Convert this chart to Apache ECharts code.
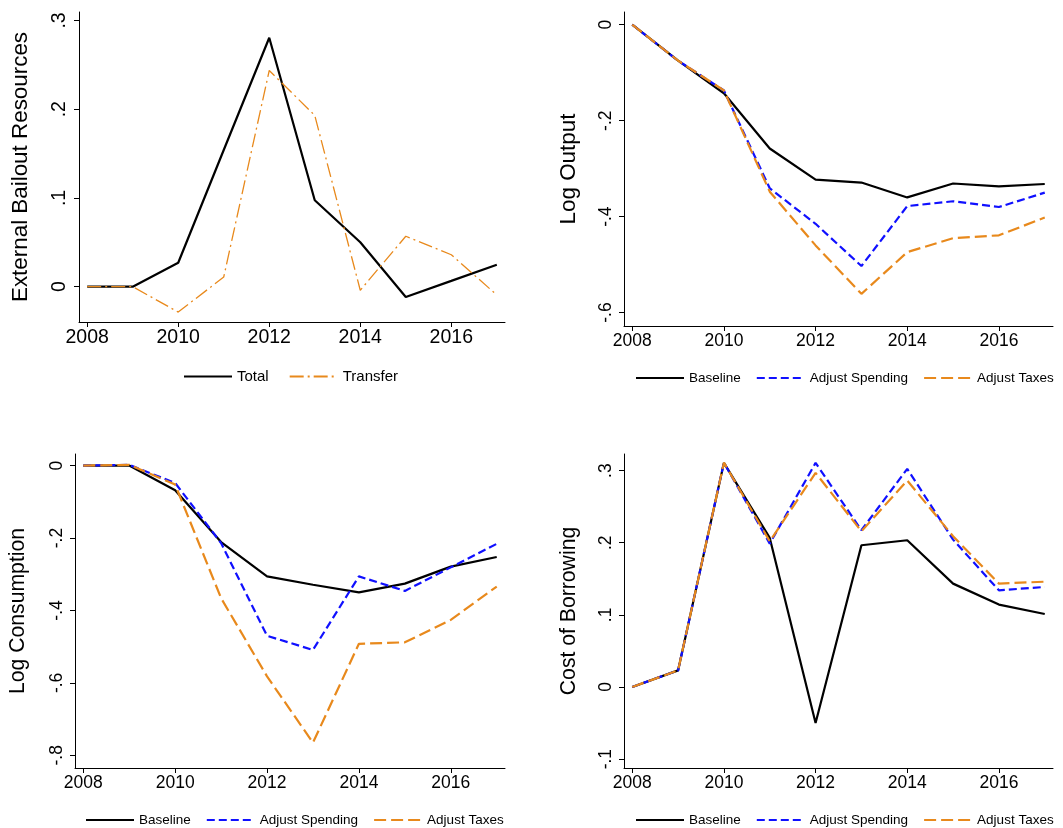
<!DOCTYPE html>
<html>
<head>
<meta charset="utf-8">
<script src="https://cdn.jsdelivr.net/npm/echarts@6/dist/echarts.min.js"></script>
<style>
html,body{margin:0;padding:0;background:#fff;}
#c{width:1063px;height:828px;}
</style>
</head>
<body>
<div id="c"></div>
<script>
const years = [2008, 2009, 2010, 2011, 2012, 2013, 2014, 2015, 2016, 2017];
const xTicks = [2008, 2010, 2012, 2014, 2016];

const bailoutTotal    = [0, 0, 0.027, 0.154, 0.2805, 0.0974, 0.050, -0.0117, 0.0065, 0.0248];
const bailoutTransfer = [0, 0, -0.0286, 0.0109, 0.2436, 0.193, -0.004, 0.0568, 0.036, -0.0094];

const outputBaseline = [0, -0.075, -0.143, -0.258, -0.323, -0.329, -0.360, -0.331, -0.337, -0.332];
const outputSpending = [0, -0.075, -0.137, -0.341, -0.415, -0.503, -0.378, -0.368, -0.380, -0.350];
const outputTaxes    = [0, -0.075, -0.137, -0.348, -0.460, -0.561, -0.474, -0.445, -0.439, -0.402];

const consBaseline = [0, 0, -0.068, -0.211, -0.306, -0.329, -0.350, -0.326, -0.279, -0.2525];
const consSpending = [0, 0.002, -0.048, -0.214, -0.470, -0.509, -0.306, -0.346, -0.281, -0.216];
const consTaxes    = [0, 0.002, -0.0525, -0.366, -0.582, -0.765, -0.492, -0.488, -0.426, -0.334];

const borrowBaseline = [0, 0.023, 0.3107, 0.2067, -0.050, 0.1965, 0.2034, 0.1433, 0.1142, 0.1012];
const borrowSpending = [0, 0.023, 0.311, 0.1988, 0.3107, 0.2173, 0.3024, 0.2043, 0.134, 0.1387];
const borrowTaxes    = [0, 0.023, 0.311, 0.202, 0.2968, 0.2159, 0.2862, 0.209, 0.1433, 0.146];

const yTicks1 = [0, 0.1, 0.2, 0.3];
const yTicks2 = [0, -0.2, -0.4, -0.6];
const yTicks3 = [0, -0.2, -0.4, -0.6, -0.8];
const yTicks4 = [-0.1, 0, 0.1, 0.2, 0.3];

const names1 = ['Total', 'Transfer'];
const names2 = ['Baseline', 'Adjust Spending', 'Adjust Taxes'];
const titles = ['External Bailout Resources', 'Log Output', 'Log Consumption', 'Cost of Borrowing'];

const FONT = 'Liberation Sans, Arial, sans-serif';
const BLACK = '#000000';
const BLUE = '#1010ff';
const ORANGE = '#e8891c';

function pair(xs, ys) { return xs.map((x, i) => [x, ys[i]]); }
function fmtY(v) {
  if (Math.abs(v) < 1e-9) return '0';
  return String(+v.toFixed(2)).replace('0.', '.');
}

const grids = [
  { left: 79, top: 12, width: 426, height: 310 },
  { left: 624, top: 12, width: 429, height: 314 },
  { left: 75, top: 454, width: 430, height: 314 },
  { left: 624, top: 454, width: 429, height: 314 }
];
const yRanges = [[-0.0398, 0.3095], [-0.628, 0.0265], [-0.835, 0.032], [-0.1123, 0.323]];
const yTickSets = [yTicks1, yTicks2, yTicks3, yTicks4];
const tickFont = [19.5, 17.5, 17.5, 17.5];
const nameFont = [22.4, 22.4, 21.2, 21.2];
const nameGaps = [47, 44, 46, 44];

const xAxes = grids.map((g, i) => ({
  type: 'value', gridIndex: i, min: 2007.82, max: 2017.18,
  axisLine: { onZero: false, lineStyle: { color: BLACK, width: 1 } },
  axisTick: { show: true, length: 5, customValues: xTicks, lineStyle: { color: BLACK } },
  axisLabel: { customValues: xTicks, color: '#000', fontFamily: FONT, fontSize: tickFont[i], margin: 6, formatter: v => String(v) },
  splitLine: { show: false }
}));

const yAxes = grids.map((g, i) => ({
  type: 'value', gridIndex: i, min: yRanges[i][0], max: yRanges[i][1],
  name: titles[i], nameLocation: 'middle', nameGap: nameGaps[i],
  nameTextStyle: { color: '#000', fontFamily: FONT, fontSize: nameFont[i] },
  axisLine: { show: true, onZero: false, lineStyle: { color: BLACK, width: 1 } },
  axisTick: { show: true, length: 5, customValues: yTickSets[i], lineStyle: { color: BLACK } },
  axisLabel: { customValues: yTickSets[i], rotate: 90, color: '#000', fontFamily: FONT, fontSize: tickFont[i], margin: 9, formatter: fmtY },
  splitLine: { show: false }
}));

function line(name, idx, data, color, type, width, z) {
  return {
    name, type: 'line', xAxisIndex: idx, yAxisIndex: idx, data,
    symbol: 'none', silent: true, animation: false, z: z || 2,
    lineStyle: { color, type, width },
    itemStyle: { color }
  };
}

const series = [
  line('Total', 0, pair(years, bailoutTotal), BLACK, 'solid', 2.2, 2),
  line('Transfer', 0, pair(years, bailoutTransfer), ORANGE, [14, 4, 2, 4], 1.3, 3),

  line('Baseline', 1, pair(years, outputBaseline), BLACK, 'solid', 2.2, 2),
  line('Adjust Spending', 1, pair(years, outputSpending), BLUE, [8, 4], 2.2, 3),
  line('Adjust Taxes', 1, pair(years, outputTaxes), ORANGE, [12, 5], 2.2, 4),

  line('Baseline', 2, pair(years, consBaseline), BLACK, 'solid', 2.2, 2),
  line('Adjust Spending', 2, pair(years, consSpending), BLUE, [8, 4], 2.2, 3),
  line('Adjust Taxes', 2, pair(years, consTaxes), ORANGE, [12, 5], 2.2, 4),

  line('Baseline', 3, pair(years, borrowBaseline), BLACK, 'solid', 2.2, 2),
  line('Adjust Spending', 3, pair(years, borrowSpending), BLUE, [8, 4], 2.2, 3),
  line('Adjust Taxes', 3, pair(years, borrowTaxes), ORANGE, [12, 5], 2.2, 4)
];

function legend(data, left, top, fontSize, gap) {
  return {
    data, left, top, orient: 'horizontal', padding: 0, itemGap: gap,
    itemWidth: 48, itemHeight: 12, selectedMode: false,
    itemStyle: { opacity: 0, borderWidth: 0 },
    textStyle: { color: '#000', fontFamily: FONT, fontSize }
  };
}

const chart = echarts.init(document.getElementById('c'), null, { renderer: 'canvas' });
chart.setOption({
  backgroundColor: '#fff',
  animation: false,
  grid: grids,
  xAxis: xAxes,
  yAxis: yAxes,
  legend: [
    legend(names1, 183, 369, 15, 20),
    legend(names2, 635, 371, 13.5, 15),
    legend(names2, 85, 813, 13.5, 15),
    legend(names2, 635, 813, 13.5, 15)
  ],
  series
});
</script>
</body>
</html>
